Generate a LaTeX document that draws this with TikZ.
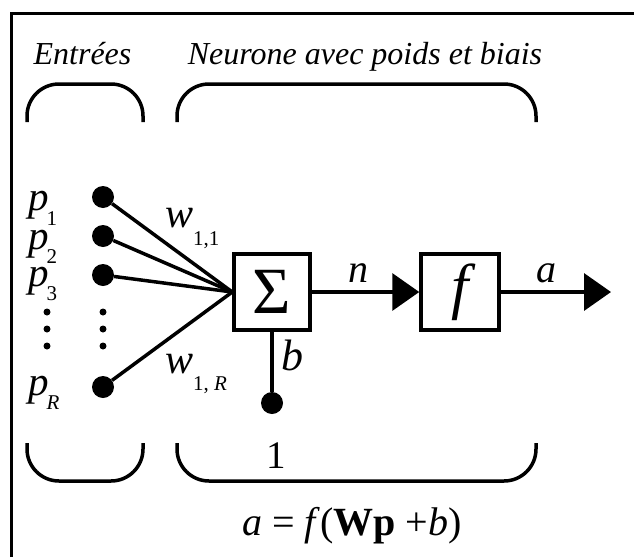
\documentclass[tikz,border=0pt]{standalone}
\usepackage{fontspec}
\setmainfont{Liberation Serif}
\usetikzlibrary{arrows.meta}
\newcommand{\fsz}[1]{\fontsize{#1}{#1}\selectfont}
\newcommand{\lowsub}[3]{\textit{#1}\raisebox{-#3}{\fsz{21pt}#2}}

\begin{document}
\begin{tikzpicture}[x=1pt,y=-1pt,every node/.style={inner sep=0pt},
wire/.style={line width=3.5pt},
brace/.style={line width=3.5pt,rounded corners=32pt},
opbox/.style={draw,line width=3.5pt,minimum width=76pt,minimum height=76pt},
bigdot/.style={circle,fill,minimum size=22pt},
tip/.style={-{Triangle[length=27pt,width=37pt]}}]
\useasboundingbox (0,0) rectangle (634,557);
\draw[line width=3pt] (11.5,557) |- (634,13.5);
% titres et accolades
\node[anchor=base,font=\fsz{32pt}\itshape] (tin) at (82.5,64) {Entrées};
\node[anchor=base,font=\fsz{32pt}\itshape] (tneu) at (365,64) {Neurone avec poids et biais};
\draw[brace] (27,122) |- (143,84) -- (143,122);
\draw[brace] (177,122) |- (536,84) -- (536,122);
\draw[brace] (27,443) |- (143,481) -- (143,443);
\draw[brace] (177,443) |- (536,481) -- (536,443);
% entrees
\foreach \n/\y/\b/\s/\d in {1/197/210/1/15pt,2/236/249/2/14pt,3/275/286/3/14pt,R/387/395/\textit{R}/14pt}{
  \node[bigdot] (in\n) at (103,\y) {};
  \node[anchor=base west,text height=18pt,font=\fsz{41pt}] (lp\n) at (28,\b) {\lowsub{p}{\kern-2pt\s}{\d}};
}
\foreach \y in {312,329,346}{
  \fill (47,\y) circle[radius=3.5pt];
  \fill (103,\y) circle[radius=3.5pt];
}
% neurone
\node[opbox,font=\fsz{66pt}] (sum) at (272,292) {Σ};
\node[opbox,minimum width=78pt,font=\fsz{62pt}\itshape] (act) at (460,292) {f};
\node[bigdot] (one) at (272,403) {};
\coordinate (out) at (611,292);
\foreach \n in {1,2,3,R} \draw[wire] (in\n) -- (sum.west);
\draw[wire] (sum) -- (one);
\draw[wire,tip] (sum) -- (act);
\draw[wire,tip] (act) -- (out);
% etiquettes
\node[anchor=base west,font=\fsz{42pt}] (w11) at (165,227) {\lowsub{w}{1,1}{18pt}};
\node[anchor=base west,font=\fsz{42pt}] (w1R) at (165,373) {\lowsub{w}{1, \textit{R}}{17pt}};
\node[anchor=base,font=\fsz{44pt}\itshape] (lb) at (292,370) {b};
\node[anchor=base,font=\fsz{40pt}\itshape] (ln) at (358,282) {n};
\node[anchor=base,font=\fsz{40pt}\itshape] (la) at (546,282) {a};
\node[anchor=base,font=\fsz{39pt}] (l1) at (276,468) {1};
\node[anchor=base,font=\fsz{40pt}] (eq) at (352,535) {\textit{a} = \textit{f}(\textbf{Wp} +\textit{b})};
\end{tikzpicture}
\end{document}
